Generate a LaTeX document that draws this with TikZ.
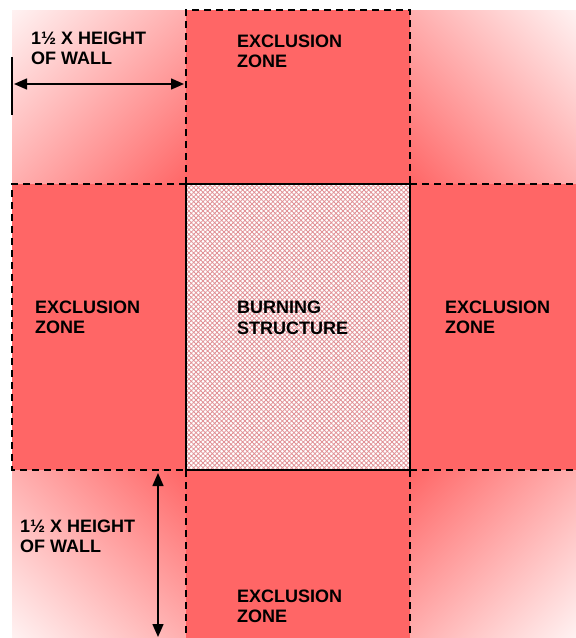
\documentclass[tikz,border=0pt]{standalone}
\usepackage{fontspec}
\setmainfont{Liberation Sans}
\usetikzlibrary{patterns.meta,arrows.meta,shadings}
\definecolor{zone}{RGB}{255,102,102}
\definecolor{pale}{RGB}{255,242,242}
\definecolor{mid}{RGB}{255,175,175}
\definecolor{hatchc}{RGB}{225,145,150}
\begin{document}
\begin{tikzpicture}[x=1pt,y=-1pt,
  lbl/.style={anchor=base west, inner sep=0pt, font=\bfseries\fontsize{18}{20}\selectfont},
  zoneline/.style={dash pattern=on 7pt off 5pt, line width=2pt},
  dimarrow/.style={{Triangle[length=13pt,width=11pt]}-{Triangle[length=13pt,width=11pt]}, line width=1.5pt}]
\useasboundingbox (0,0) rectangle (576,638);
\fill[white] (0,0) rectangle (576,638);
% grid
\coordinate (A0) at (12,10);   \coordinate (B0) at (186,10);  \coordinate (C0) at (410,10);  \coordinate (D0) at (576,10);
\coordinate (A1) at (12,184);  \coordinate (B1) at (186,184); \coordinate (C1) at (410,184); \coordinate (D1) at (576,184);
\coordinate (A2) at (12,470);  \coordinate (B2) at (186,470); \coordinate (C2) at (410,470); \coordinate (D2) at (576,470);
\coordinate (A3) at (12,638);  \coordinate (B3) at (186,638); \coordinate (C3) at (410,638); \coordinate (D3) at (576,638);
% corner gradients
\shade[upper left=pale, lower right=zone, upper right=mid, lower left=mid] (A0) rectangle (B1);
\shade[upper right=pale, lower left=zone, upper left=mid, lower right=mid] (C0) rectangle (D1);
\shade[lower left=pale, upper right=zone, upper left=mid, lower right=mid] (A2) rectangle (B3);
\shade[lower right=pale, upper left=zone, upper right=mid, lower left=mid] (C2) rectangle (D3);
% exclusion zones
\fill[zone] (B0) rectangle (C1);
\fill[zone] (A1) rectangle (B2);
\fill[zone] (C1) rectangle (D2);
\fill[zone] (B2) rectangle (C3);
% burning structure
\fill[white] (B1) rectangle (C2);
\fill[pattern={Hatch[angle=45,distance=3.3pt,line width=0.8pt]}, pattern color=hatchc] (B1) rectangle (C2);
% dashed zone borders
\draw[zoneline] (B1) -- (B0) -- (C0) -- (C1);
\draw[zoneline] (B1) -- (A1) -- (A2) -- (B2);
\draw[zoneline] (C1) -- (D1);
\draw[zoneline] (C2) -- (D2);
\draw[zoneline] (B2) -- (B3);
\draw[zoneline] (C2) -- (C3);
\draw[line width=1.8pt] (B1) rectangle (C2);
% dimension arrows
\coordinate (t0) at (12,57); \coordinate (t1) at (12,115);
\draw[line width=2pt] (t0) -- (t1);
\coordinate (h0) at (14,84); \coordinate (h1) at (184,84);
\draw[dimarrow] (h0) -- (h1);
\coordinate (v0) at (158,473); \coordinate (v1) at (158,637);
\draw[dimarrow] (v0) -- (v1);
% labels
\node[lbl] (tla) at (31,44) {1½ X HEIGHT};
\node[lbl] (tlb) at (31,64) {OF WALL};
\node[lbl] (bla) at (20,532) {1½ X HEIGHT};
\node[lbl] (blb) at (20,552) {OF WALL};
\node[lbl] (tza) at (237,47) {EXCLUSION};
\node[lbl] (tzb) at (237,67) {ZONE};
\node[lbl] (lza) at (35,313) {EXCLUSION};
\node[lbl] (lzb) at (35,333) {ZONE};
\node[lbl] (bsa) at (237,313) {BURNING};
\node[lbl] (bsb) at (237,334) {STRUCTURE};
\node[lbl] (rza) at (445,313) {EXCLUSION};
\node[lbl] (rzb) at (445,333) {ZONE};
\node[lbl] (bza) at (237,602) {EXCLUSION};
\node[lbl] (bzb) at (237,622) {ZONE};
\end{tikzpicture}
\end{document}
